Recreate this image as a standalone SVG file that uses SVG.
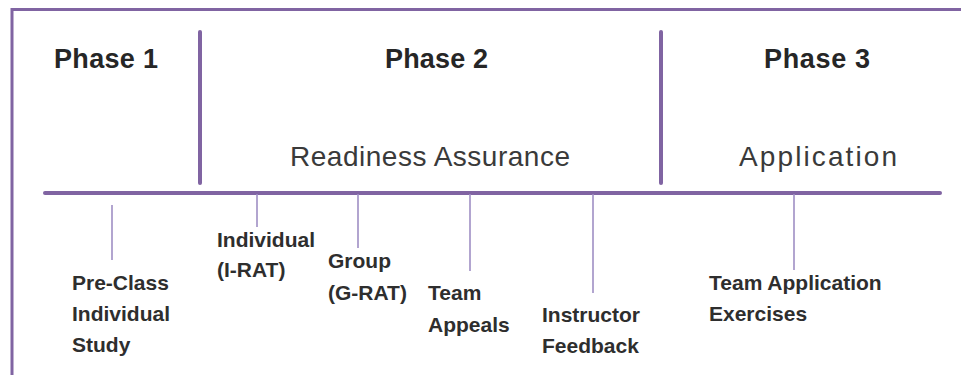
<svg xmlns="http://www.w3.org/2000/svg" width="961" height="375" viewBox="0 0 961 375">
<style>
.frame{stroke:#8064a2;stroke-width:3;fill:none}
.axis{stroke:#8064a2;stroke-width:4;stroke-linecap:round}
.div{stroke:#8064a2;stroke-width:4;stroke-linecap:round}
.tick{stroke:#9f8fc4;stroke-width:1.6}
.ph{font-family:"Liberation Sans",Arial,sans-serif;font-weight:bold;font-size:27px;fill:#262626}
.sub{font-family:"Liberation Sans",Arial,sans-serif;font-size:28px;fill:#3a3a3a}
.lbl{font-family:"Liberation Sans",Arial,sans-serif;font-weight:bold;font-size:21px;fill:#2e2e2e}
</style>
<rect width="961" height="375" fill="#ffffff"/>
<g id="frame">
<path class="frame" d="M12 375 V9.5 H961"/>
</g>
<g id="connectors">
<line class="axis" x1="45" y1="193" x2="940" y2="193"/>
<line class="div" x1="200" y1="32" x2="200" y2="183"/>
<line class="div" x1="661" y1="32" x2="661" y2="183"/>
<line class="tick" x1="112" y1="205" x2="112" y2="260"/>
<line class="tick" x1="257" y1="194" x2="257" y2="227"/>
<line class="tick" x1="358" y1="194" x2="358" y2="248"/>
<line class="tick" x1="470" y1="194" x2="470" y2="271"/>
<line class="tick" x1="593" y1="194" x2="593" y2="293"/>
<line class="tick" x1="794" y1="194" x2="794" y2="270"/>
</g>
<g id="phase1"><text class="ph" x="54" y="68" textLength="104">Phase 1</text></g>
<g id="phase2">
<text class="ph" x="385" y="68" textLength="103">Phase 2</text>
<text class="sub" x="290" y="166" textLength="280">Readiness Assurance</text>
</g>
<g id="phase3">
<text class="ph" x="764" y="68" textLength="106">Phase 3</text>
<text class="sub" x="739" y="166" textLength="158">Application</text>
</g>
<g id="preclass"><text class="lbl" x="72" y="290">Pre-Class</text><text class="lbl" x="72" y="321">Individual</text><text class="lbl" x="72" y="352">Study</text></g>
<g id="irat"><text class="lbl" x="217" y="247">Individual</text><text class="lbl" x="217" y="277">(I-RAT)</text></g>
<g id="grat"><text class="lbl" x="328" y="268">Group</text><text class="lbl" x="328" y="300">(G-RAT)</text></g>
<g id="appeals"><text class="lbl" x="428" y="300">Team</text><text class="lbl" x="428" y="332">Appeals</text></g>
<g id="feedback"><text class="lbl" x="542" y="322">Instructor</text><text class="lbl" x="542" y="353">Feedback</text></g>
<g id="application"><text class="lbl" x="709" y="290">Team Application</text><text class="lbl" x="709" y="321">Exercises</text></g>
</svg>
